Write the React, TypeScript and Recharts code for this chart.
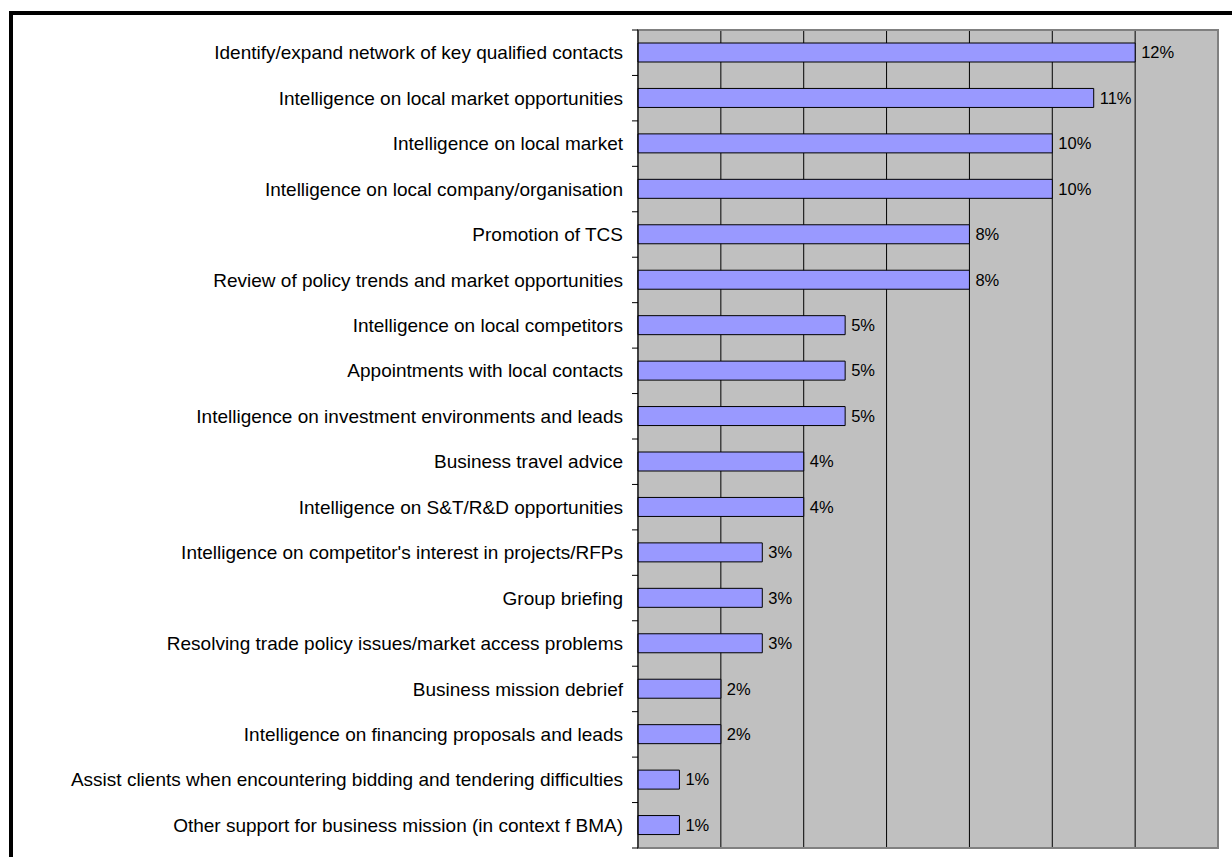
import React from 'react';
import {
    BarChart,
    Bar,
    XAxis,
    YAxis,
    CartesianGrid,
    LabelList,
    ReferenceArea,
} from 'recharts';

const categories = [
    "Identify/expand network of key qualified contacts",
    "Intelligence on local market opportunities",
    "Intelligence on local market",
    "Intelligence on local company/organisation",
    "Promotion of TCS",
    "Review of policy trends and market opportunities",
    "Intelligence on local competitors",
    "Appointments with local contacts",
    "Intelligence on investment environments and leads",
    "Business travel advice",
    "Intelligence on S&T/R&D opportunities",
    "Intelligence on competitor's interest in projects/RFPs",
    "Group briefing",
    "Resolving trade policy issues/market access problems",
    "Business mission debrief",
    "Intelligence on financing proposals and leads",
    "Assist clients when encountering bidding and tendering difficulties",
    "Other support for business mission (in context f BMA)",
];

const shares = [12, 11, 10, 10, 8, 8, 5, 5, 5, 4, 4, 3, 3, 3, 2, 2, 1, 1];

const xTicks = [0, 2, 4, 6, 8, 10, 12, 14];

const FONT = '"Liberation Sans", Arial, Helvetica, sans-serif';

const CHART_W = 1232;
const CHART_H = 857;
const MARGIN = { top: 30, right: 14, bottom: 9, left: 0 };
const PLOT_H = CHART_H - MARGIN.top - MARGIN.bottom;
const STEP = PLOT_H / categories.length;

// excel-style ticks: marks sit between categories, not on them
function CategoryTick(props: any) {
    const { x, y, payload, index } = props;
    const half = STEP / 2;
    return (
        <g>
            <line x1={x - 6} x2={x} y1={y - half} y2={y - half} stroke="#000" />
            {index === categories.length - 1 && (
                <line x1={x - 6} x2={x} y1={y + half} y2={y + half} stroke="#000" />
            )}
            <text
                x={x - 15}
                y={y}
                dy="0.35em"
                textAnchor="end"
                fontSize={19}
                fontFamily={FONT}
                fill="#000"
            >
                {payload.value}
            </text>
        </g>
    );
}

export default function App() {
    const data = React.useMemo(
        () => categories.map((name, i) => ({ name, value: shares[i] })),
        []
    );

    return (
        <div style={{ position: 'fixed', left: 0, top: 0, width: CHART_W, height: CHART_H, overflow: 'hidden', background: '#fff' }}>
            <div
                style={{
                    position: 'absolute',
                    left: 9,
                    top: 11,
                    width: 1300,
                    height: 900,
                    border: '4px solid #000',
                    boxSizing: 'border-box',
                }}
            />
            <div style={{ position: 'absolute', left: 0, top: 0 }}>
                <BarChart
                    width={CHART_W}
                    height={CHART_H}
                    data={data}
                    layout="vertical"
                    margin={MARGIN}
                    barSize={19}
                >
                    <CartesianGrid
                        horizontal={false}
                        vertical={true}
                        stroke="#000"
                        strokeWidth={1}
                        fill="#C0C0C0"
                        fillOpacity={1}
                    />
                    <XAxis type="number" domain={[0, 14]} ticks={xTicks} hide />
                    <YAxis
                        type="category"
                        dataKey="name"
                        width={638}
                        axisLine={{ stroke: '#000' }}
                        tickLine={false}
                        tickSize={0}
                        tickMargin={0}
                        tick={<CategoryTick />}
                        interval={0}
                    />
                    <ReferenceArea
                        x1={0}
                        x2={14}
                        fill="none"
                        stroke="#808080"
                        strokeWidth={2}
                        ifOverflow="visible"
                    />
                    <Bar dataKey="value" fill="#9999FF" stroke="#000" strokeWidth={1} isAnimationActive={false}>
                        <LabelList
                            dataKey="value"
                            position="right"
                            offset={6}
                            formatter={(v: any) => `${v}%`}
                            style={{ fontSize: 16.5, fontFamily: FONT, fill: '#000' }}
                        />
                    </Bar>
                </BarChart>
            </div>
        </div>
    );
}
